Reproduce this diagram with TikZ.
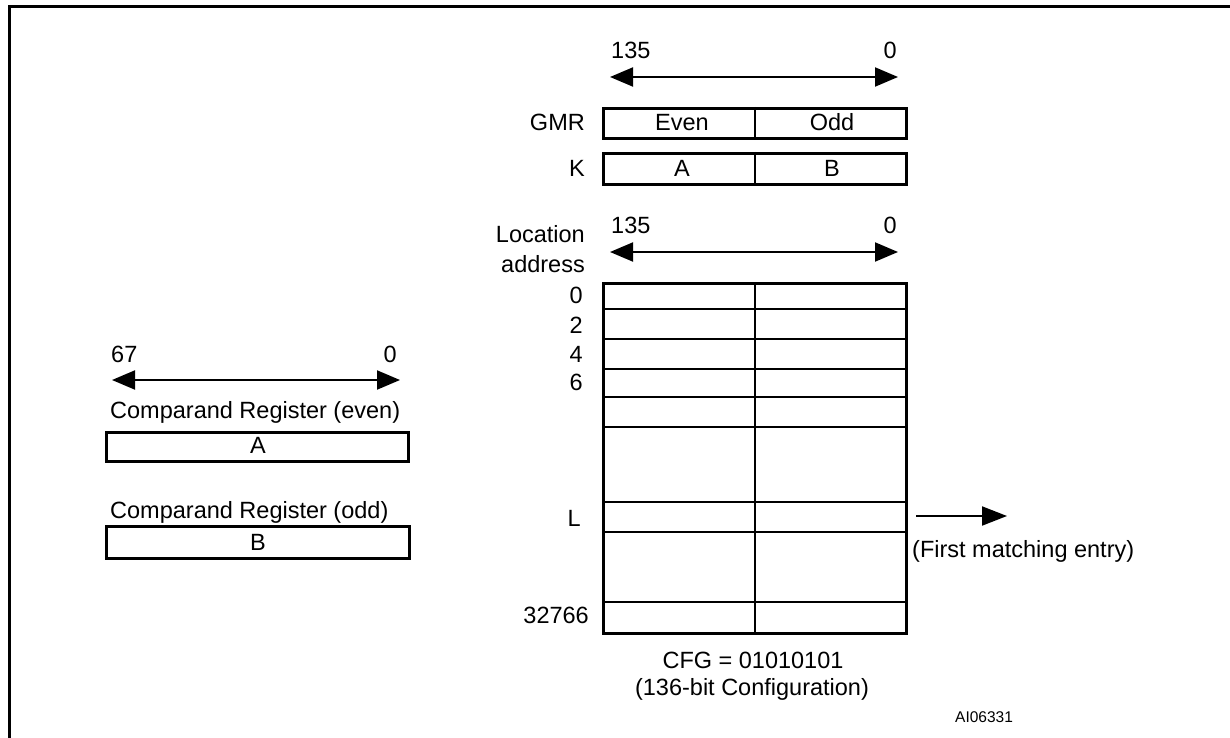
\documentclass[tikz,border=0pt]{standalone}
\usepackage{fontspec}
\setmainfont{Liberation Sans}
\usetikzlibrary{arrows.meta}
\begin{document}
\begin{tikzpicture}[x=1pt,y=-1pt,
  lbl/.style={inner sep=0pt, font=\fontsize{23.5}{28}\selectfont},
  small/.style={inner sep=0pt, font=\fontsize{15.5}{18}\selectfont},
  box/.style={draw, line width=2.6pt},
  regbox/.style={draw, line width=2.6pt, inner sep=0pt, anchor=north west},
  thin/.style={line width=1.6pt},
  dim/.style={line width=2pt, {Triangle[length=23pt,width=19pt]}-{Triangle[length=23pt,width=19pt]}},
  ptr/.style={line width=2pt, -{Triangle[length=25pt,width=19pt]}}]
\useasboundingbox (0,0) rectangle (1230,738);
% frame
\draw[line width=3pt] (9.5,742) -- (9.5,6.5) -- (1234,6.5);

% ---- top GMR / K ----
\node[lbl, anchor=base west] (gmrhi) at (611,59) {135};
\node[lbl, anchor=base east] (gmrlo) at (897,59) {0};
\coordinate (ga1) at (610,77);
\coordinate (ga2) at (898,77);
\draw[dim] (ga1) -- (ga2);

\node[regbox, minimum width=303pt, minimum height=30pt] (gmr) at (602,107) {};
\draw[thin] (755,107) -- (755,137);
\node[lbl, anchor=base east] (gmrlbl) at (585,131) {GMR};
\node[lbl, anchor=base] (even) at (682,131) {Even};
\node[lbl, anchor=base] (odd) at (832,131) {Odd};

\node[regbox, minimum width=303pt, minimum height=31pt] (kreg) at (602,152) {};
\draw[thin] (755,152) -- (755,183);
\node[lbl, anchor=base east] (klbl) at (585,177) {K};
\node[lbl, anchor=base] (ka) at (682,177) {A};
\node[lbl, anchor=base] (kb) at (832,177) {B};

% ---- location table ----
\node[lbl, anchor=base east] (loc1) at (585,242) {Location};
\node[lbl, anchor=base east] (loc2) at (585,272) {address};
\node[lbl, anchor=base west] (lochi) at (611,233) {135};
\node[lbl, anchor=base east] (loclo) at (897,233) {0};
\coordinate (la1) at (610,252);
\coordinate (la2) at (898,252);
\draw[dim] (la1) -- (la2);

\node[regbox, minimum width=303pt, minimum height=350pt] (table) at (602,282) {};
\foreach \yy in {309,339,369,397,427,502,532,602}
  \draw[line width=2.6pt] (602,\yy) -- (905,\yy);
\draw[thin] (755,282) -- (755,632);

\node[lbl, anchor=base east] (a0) at (583,303) {0};
\node[lbl, anchor=base east] (a2) at (583,333) {2};
\node[lbl, anchor=base east] (a4) at (583,362) {4};
\node[lbl, anchor=base east] (a6) at (583,390) {6};
\node[lbl, anchor=base east] (aL) at (581,526) {L};
\node[lbl, anchor=base east] (aN) at (589,623) {32766};

\coordinate (p1) at (916,516);
\coordinate (p2) at (1007,516);
\draw[ptr] (p1) -- (p2);
\node[lbl, anchor=base west] (first) at (912,557) {(First matching entry)};

\node[lbl, anchor=base] (cfg) at (753,668) {CFG = 01010101};
\node[lbl, anchor=base] (cfg2) at (752,695) {(136-bit Configuration)};
\node[small, anchor=base west] (ai) at (955,722) {AI06331};

% ---- comparand registers ----
\node[lbl, anchor=base west] (chi) at (111,362) {67};
\node[lbl, anchor=base east] (clo) at (397,362) {0};
\coordinate (ca1) at (112,380);
\coordinate (ca2) at (400,380);
\draw[dim] (ca1) -- (ca2);

\node[lbl, anchor=base west] (ceven) at (110,418) {Comparand Register (even)};
\node[regbox, minimum width=302pt, minimum height=29pt] (cra) at (105,431) {};
\node[lbl, anchor=base] (craa) at (258,453) {A};

\node[lbl, anchor=base west] (codd) at (110,518) {Comparand Register (odd)};
\node[regbox, minimum width=303pt, minimum height=32pt] (crb) at (105,525) {};
\node[lbl, anchor=base] (crbb) at (258,550) {B};
\end{tikzpicture}
\end{document}
